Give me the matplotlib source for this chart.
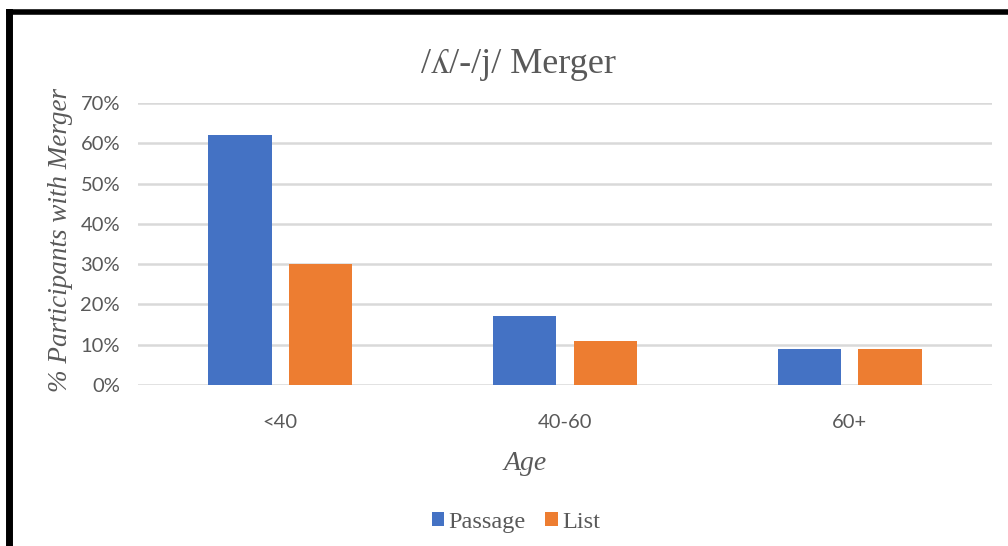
import matplotlib.pyplot as plt
from matplotlib.lines import Line2D
import numpy as np

# Share of participants showing the merger, by age group and task
age_groups = ['<40', '40-60', '60+']
passage = [62, 17, 9]
word_list = [30, 11, 9]

blue = '#4472C4'
orange = '#ED7D31'
text_grey = '#595959'
serif = ['Liberation Serif', 'DejaVu Serif']
sans = ['Lato', 'DejaVu Sans']

fig = plt.figure(figsize=(10.08, 5.46), dpi=100)
ax = fig.add_axes([0.137, 0.2949, 0.847, 0.5165])

x = np.arange(len(age_groups))
w = 0.222
off = 0.142
ax.bar(x - off, np.array(passage) / 100, w, color=blue, label='Passage', zorder=3)
ax.bar(x + off, np.array(word_list) / 100, w, color=orange, label='List', zorder=3)

ax.set_xlim(-0.5, 2.5)
ax.set_ylim(0, 0.7)
ax.set_yticks(np.arange(0, 0.71, 0.1))
ax.set_yticklabels([f'{int(round(v * 100))}%' for v in np.arange(0, 0.71, 0.1)])
ax.set_xticks(x)
ax.set_xticklabels(age_groups)
ax.grid(axis='y', color='#d9d9d9', linewidth=1.8, zorder=0)
for s in ax.spines.values():
    s.set_visible(False)
ax.tick_params(length=0, labelsize=14.5, labelcolor=text_grey)
ax.tick_params(axis='x', pad=21)
ax.tick_params(axis='y', pad=13)
for lab in ax.get_xticklabels() + ax.get_yticklabels():
    lab.set_family(sans)

fig.text(0.514, 0.882, '/ʎ/-/j/ Merger', ha='center', va='center',
         fontsize=26, color=text_grey, family=serif)
fig.text(0.06, 0.56, '% Participants with Merger', rotation=90, ha='center',
         va='center', fontsize=19.5, style='italic', color=text_grey, family=serif)
fig.text(0.521, 0.152, 'Age', ha='center', va='center', fontsize=20,
         style='italic', color=text_grey, family=serif)

leg = fig.legend(loc='center', bbox_to_anchor=(0.512, 0.043), ncol=2, frameon=False,
                 handlelength=0.5, handleheight=0.5, handletextpad=0.2,
                 columnspacing=0.8, prop={'family': serif, 'size': 17.5})
for t in leg.get_texts():
    t.set_color(text_grey)

# Thick black frame along the top and left edges
fig.add_artist(Line2D([9 / 1008, 1.0], [1 - 12 / 546, 1 - 12 / 546], color='black',
                      linewidth=4, solid_capstyle='projecting',
                      transform=fig.transFigure))
fig.add_artist(Line2D([9 / 1008, 9 / 1008], [0.0, 1 - 12 / 546], color='black',
                      linewidth=5, solid_capstyle='projecting',
                      transform=fig.transFigure))

fig.savefig('out.png', dpi=100)
